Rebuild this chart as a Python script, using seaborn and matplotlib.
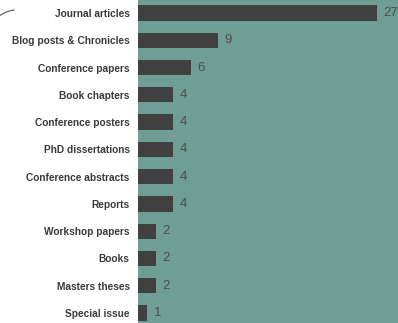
import matplotlib
matplotlib.use("Agg")
import matplotlib.pyplot as plt
import seaborn as sns
import pandas as pd
from matplotlib.path import Path
from matplotlib.patches import PathPatch

categories = ["Journal articles", "Blog posts & Chronicles", "Conference papers",
              "Book chapters", "Conference posters", "PhD dissertations",
              "Conference abstracts", "Reports", "Workshop papers", "Books",
              "Masters theses", "Special issue"]
counts = [27, 9, 6, 4, 4, 4, 4, 4, 2, 2, 2, 1]

df = pd.DataFrame({"category": categories, "count": counts})

sns.set_theme(style="white")
plt.rcParams["font.family"] = ["Liberation Sans", "DejaVu Sans"]

fig = plt.figure(figsize=(3.98, 3.23), dpi=100)
ax = fig.add_axes([138 / 398, 0, 1 - 138 / 398, 1])
ax.set_facecolor("#6f9e94")

sns.barplot(data=df, y="category", x="count", orient="h", color="#404040",
            saturation=1, width=0.56, linewidth=0, ax=ax)

for i, v in enumerate(counts):
    ax.text(v + 0.75, i, str(v), va="center", ha="left", fontsize=9.5,
            color="#4d4d4d")

ax.set_xlim(0, 29.4)
ax.set_ylim(11.37, -0.48)
ax.set_xlabel("")
ax.set_ylabel("")
ax.set_xticks([])
ax.tick_params(axis="y", length=0, pad=6)
for lbl in ax.get_yticklabels():
    lbl.set_fontsize(7.3)
    lbl.set_fontweight("bold")
    lbl.set_color("#3a3a3a")
for s in ax.spines.values():
    s.set_visible(False)

# small curved stroke at the top-left corner
verts = [(0.0, 0.952), (0.015, 0.966), (0.037, 0.969)]
path = Path(verts, [Path.MOVETO, Path.CURVE3, Path.CURVE3])
fig.patches.append(PathPatch(path, transform=fig.transFigure, fill=False,
                             edgecolor="#555555", lw=0.8))

fig.savefig("out.png", dpi=100)
